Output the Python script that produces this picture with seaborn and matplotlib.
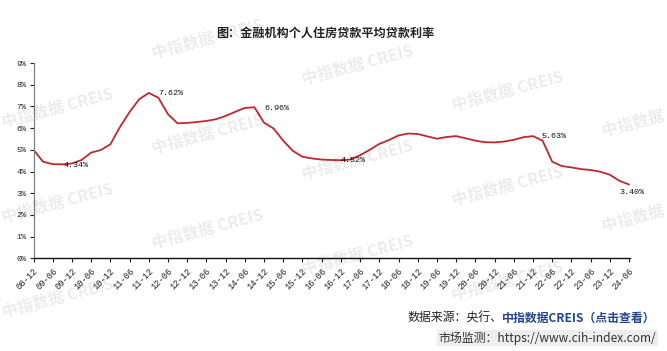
import numpy as np
import pandas as pd
import matplotlib
matplotlib.use('Agg')
import matplotlib.pyplot as plt
import seaborn as sns

# quarterly categories 08-12 ... 24-06
quarters = [f"{p.year % 100:02d}-{p.quarter * 3:02d}"
            for p in pd.period_range('2008Q4', '2024Q2', freq='Q')]

# average personal housing loan rate (%)
rate = [5.00, 4.45, 4.34, 4.33, 4.37, 4.53, 4.87, 4.99, 5.25, 6.05,
        6.74, 7.33, 7.62, 7.40, 6.64, 6.22, 6.24, 6.28, 6.33, 6.41,
        6.56, 6.75, 6.93, 6.96, 6.25, 5.98, 5.42, 4.95, 4.68, 4.60,
        4.55, 4.53, 4.52, 4.55, 4.75, 5.00, 5.27, 5.45, 5.66, 5.75,
        5.73, 5.62, 5.51, 5.59, 5.63, 5.53, 5.42, 5.35, 5.34, 5.38,
        5.46, 5.58, 5.63, 5.42, 4.45, 4.25, 4.19, 4.11, 4.07, 3.99,
        3.85, 3.57, 3.40]

# which points carry a value label
label_idx = [2, 12, 23, 32, 52, 62]
label_off = [(7.9, -1.2), (7.2, -0.7), (7.2, -0.7), (0, -0.5), (5.8, 0), (-7.2, -5.8)]

title = '图：金融机构个人住房贷款平均贷款利率'
src_black = '数据来源：央行、'
src_blue = '中指数据CREIS（点击查看）'
monitor = '市场监测：https://www.cih-index.com/'

sns.set_style('ticks')
plt.rcParams['font.family'] = ['Noto Sans CJK SC', 'DejaVu Sans']

W, H = 667, 351
fig = plt.figure(figsize=(W / 100, H / 100), dpi=100)
ax = fig.add_axes([33.5 / W, 1 - 258.3 / H, (630 - 33.5) / W, (258.3 - 63) / H])

df = pd.DataFrame({'idx': np.arange(len(rate)), 'rate': rate})
sns.lineplot(data=df, x='idx', y='rate', color='#C0282D', linewidth=1.3, ax=ax)
ax.lines[0].set_solid_joinstyle('round')

ax.set_xlim(0, len(rate) - 0.9)
ax.set_ylim(0, 9)
ax.set_xlabel('')
ax.set_ylabel('')

mono = 'Liberation Mono'
ax.set_yticks(range(10))
ax.set_yticklabels([f'{v}%' for v in range(10)], family=mono, fontsize=6)
ax.set_xticks(range(0, len(quarters), 2))
ax.set_xticklabels(quarters[::2], family=mono, fontsize=6.3, rotation=45,
                   ha='right', rotation_mode='anchor')
ax.tick_params(axis='both', direction='out', length=3, width=0.8, pad=2, colors='#222222')
ax.tick_params(axis='x', pad=3)

for s in ['top', 'right']:
    ax.spines[s].set_visible(False)
ax.spines['left'].set_color('#808080')
ax.spines['bottom'].set_color('#111111')
ax.spines['left'].set_linewidth(0.9)
ax.spines['bottom'].set_linewidth(1.0)

for i, (dx, dy) in zip(label_idx, label_off):
    ax.annotate(f'{rate[i]:.2f}%', xy=(i, rate[i]), xytext=(dx, dy),
                textcoords='offset points', family=mono, fontsize=6,
                ha='left', va='center', color='#111111')

# title
fig.text(325 / W, 1 - 33 / H, title, ha='center', va='center',
         fontsize=8.7, weight='bold', color='#222222')

# watermarks
for k in range(5):
    for m in range(-1, 4):
        cx = 58 + 150 * k
        cy = 108 + 26 * k + 95 * m
        if 30 < cy < 300:
            fig.text(cx / W, 1 - cy / H, '中指数据 CREIS', rotation=15,
                     ha='center', va='center', fontsize=11.5, weight='bold',
                     color='#000000', alpha=0.08)

# source lines
fig.canvas.draw()
r = fig.canvas.get_renderer()
t_blue = fig.text(656 / W, 1 - 318 / H, src_blue, ha='right', va='center',
                  fontsize=8.6, weight='bold', color='#24468C')
bb = t_blue.get_window_extent(r)
fig.text(bb.x0 / W, 1 - 318 / H, src_black, ha='right', va='center',
         fontsize=8.6, color='#222222')
fig.text(656 / W, 1 - 338 / H, monitor, ha='right', va='center',
         fontsize=8.6, color='#333333',
         bbox=dict(boxstyle='square,pad=0.15', fc='#EEEEEE', ec='none'))

fig.savefig('out.png', dpi=100)
